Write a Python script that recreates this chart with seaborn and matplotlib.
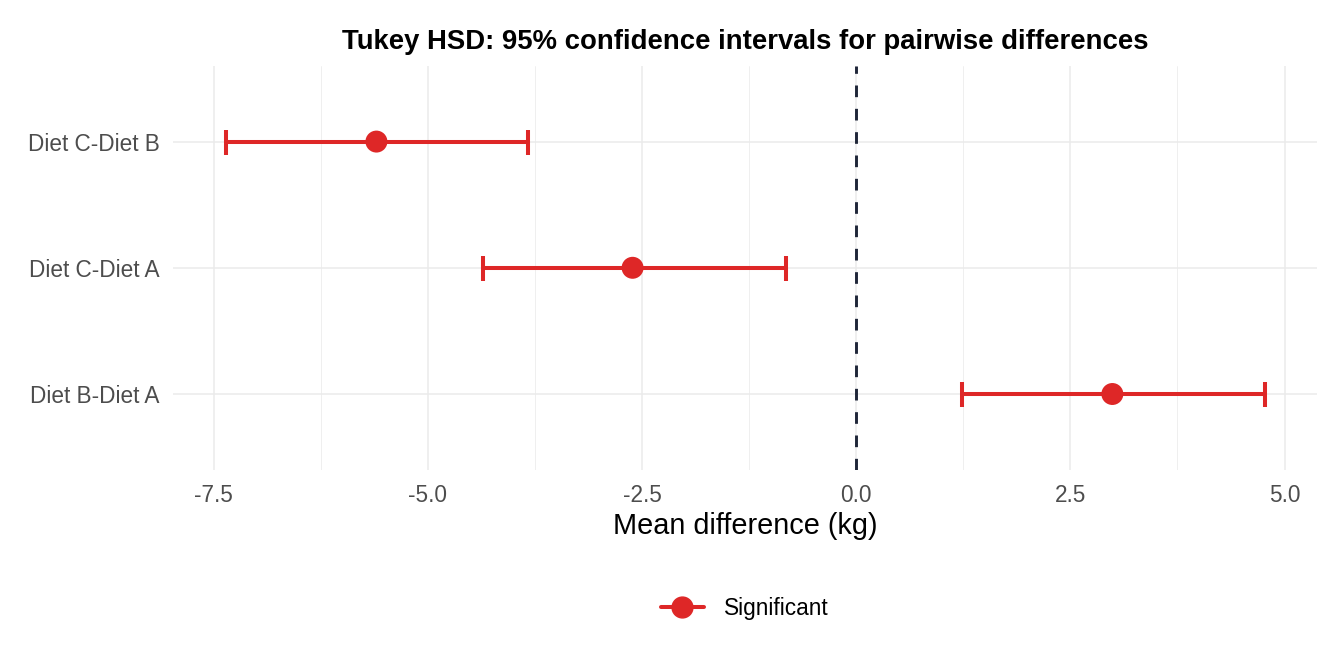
import pandas as pd
import seaborn as sns
import matplotlib.pyplot as plt
from matplotlib.lines import Line2D
from matplotlib.ticker import MultipleLocator

# ==============================================================================
# DATA
# ==============================================================================

comparisons = ["Diet B-Diet A", "Diet C-Diet A", "Diet C-Diet B"]
mean_diff = [2.99, -2.61, -5.60]
lower_ci = [1.23, -4.36, -7.36]
upper_ci = [4.77, -0.82, -3.83]
status = ["Significant", "Significant", "Significant"]

RED = "#DE2727"

df = pd.DataFrame({
    "comparison": comparisons,
    "diff": mean_diff,
    "lwr": lower_ci,
    "upr": upper_ci,
    "status": status,
})

# ==============================================================================
# PLOT
# ==============================================================================

sns.set_theme(style="white")
plt.rcParams["font.family"] = ["Liberation Sans", "DejaVu Sans"]
plt.rcParams["axes.unicode_minus"] = False

fig, ax = plt.subplots(figsize=(13.44, 6.72), dpi=100)
fig.subplots_adjust(left=0.129, right=0.980, top=0.902, bottom=0.301)

# gridlines (ggplot theme_minimal look)
ax.xaxis.set_major_locator(MultipleLocator(2.5))
ax.xaxis.set_minor_locator(MultipleLocator(1.25))
ax.grid(which="major", axis="both", color="#EBEBEB", linewidth=1.1)
ax.grid(which="minor", axis="x", color="#EBEBEB", linewidth=0.55)
ax.set_axisbelow(True)

ax.axvline(0, color="#1E2538", linewidth=2.1, linestyle=(0, (4, 4)), zorder=2)

ax.errorbar(
    x=df["diff"], y=df["comparison"],
    xerr=[df["diff"] - df["lwr"], df["upr"] - df["diff"]],
    fmt="none", ecolor=RED, elinewidth=2.9, capsize=9, capthick=2.9, zorder=3,
)

sns.scatterplot(
    data=df, x="diff", y="comparison",
    color=RED, s=250, edgecolor="none", legend=False, ax=ax, zorder=4,
)

ax.set_xlim(-7.97, 5.38)
ax.set_ylim(-0.6, 2.6)

for s in ax.spines.values():
    s.set_visible(False)

ax.tick_params(axis="both", which="both", length=0, labelsize=16.3,
               labelcolor="#4D4D4D")
ax.tick_params(axis="x", pad=10)
ax.tick_params(axis="y", pad=10)

ax.set_xlabel("Mean difference (kg)", fontsize=20.8, color="black", labelpad=4)
ax.set_ylabel("")
ax.set_title("Tukey HSD: 95% confidence intervals for pairwise differences",
             fontsize=19.8, fontweight="bold", color="black", pad=12)

handle = Line2D([], [], color=RED, linewidth=2.9, marker="o", markersize=15)
fig.legend(handles=[handle], labels=["Significant"], loc="center",
           bbox_to_anchor=(0.554, 0.095), frameon=False, fontsize=16.3,
           handlelength=1.9, handletextpad=0.9, labelcolor="black")

fig.savefig("out.png", dpi=100)
